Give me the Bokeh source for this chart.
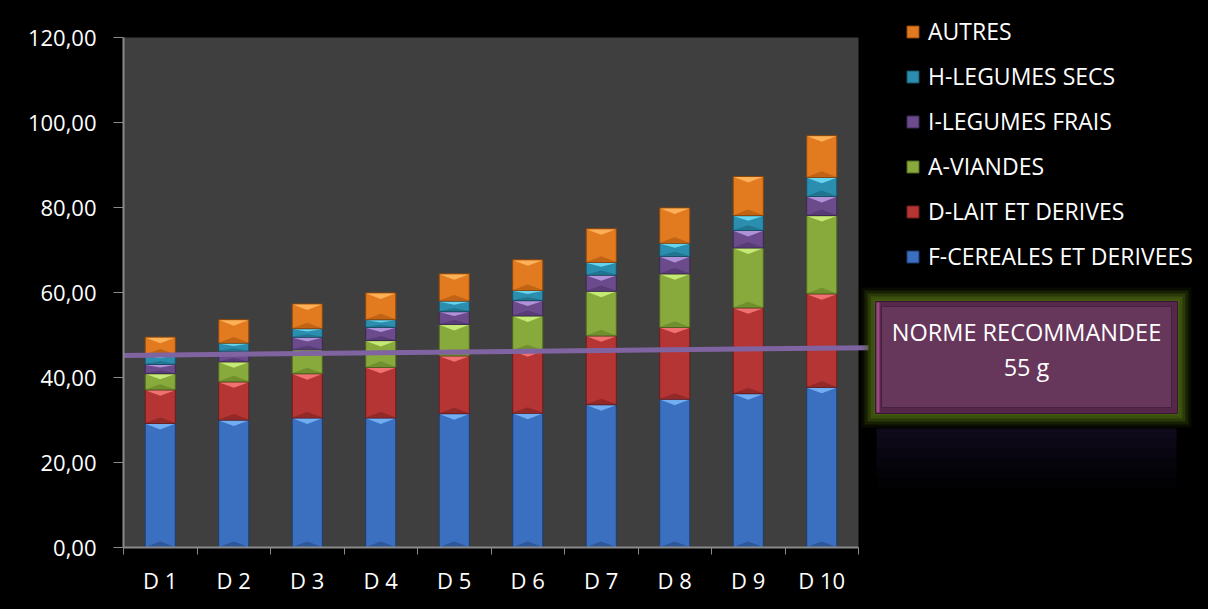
import numpy as np
from bokeh.plotting import figure
from bokeh.models import FixedTicker, Legend, LegendItem
from bokeh.embed import file_html
from bokeh.resources import INLINE
from bokeh.core.properties import value

# ---------------- data ----------------
categories = ["D 1", "D 2", "D 3", "D 4", "D 5", "D 6", "D 7", "D 8", "D 9", "D 10"]
cereales = [29.2, 30.0, 30.5, 30.5, 31.5, 31.6, 33.6, 34.9, 36.2, 37.7]
lait = [7.9, 9.0, 10.4, 11.9, 13.6, 14.7, 16.2, 16.9, 20.2, 22.0]
viandes = [3.8, 4.7, 5.6, 6.3, 7.4, 8.2, 10.5, 12.6, 14.1, 18.4]
legumes_frais = [2.2, 2.5, 3.0, 3.1, 3.0, 3.6, 3.8, 4.1, 4.1, 4.5]
legumes_secs = [2.2, 1.9, 2.0, 1.8, 2.5, 2.4, 3.0, 3.1, 3.5, 4.5]
autres = [4.2, 5.5, 5.8, 6.3, 6.4, 7.2, 7.9, 8.3, 9.2, 9.8]
series_names = ["F-CEREALES ET DERIVEES", "D-LAIT ET DERIVES", "A-VIANDES",
                "I-LEGUMES FRAIS", "H-LEGUMES SECS", "AUTRES"]
y_ticks = [0, 20, 40, 60, 80, 100, 120]
norm_y = [45.2, 47.0]          # recommended-norm line (start, end)
norm_text = ["NORME RECOMMANDEE", "55 g"]

# ---------------- styling / layout ----------------
FONT = "Open Sans"
W, H = 1208, 609
FRAME_L, FRAME_B = 123, 62
PX_CAT = 73.5
PX_UNIT = 4.25

def dx(sx):  # page pixel -> data x
    return 0.5 + (sx - FRAME_L) / PX_CAT

def dy(sy):  # page pixel -> data y
    return (H - FRAME_B - sy) / PX_UNIT

palette = [
    ("#3b6fbf", "#78b4f6", "#2a5190", "#1f3d6e"),
    ("#b53535", "#f57878", "#8a2626", "#6b1d1d"),
    ("#88a93b", "#cbef7c", "#6a8a2c", "#4e6620"),
    ("#6b4b8c", "#b89ae2", "#523870", "#3b2852"),
    ("#2b8eae", "#6bdcf6", "#1f6e88", "#175266"),
    ("#e27a20", "#ffb65e", "#b85e12", "#8c470c"),
]

x_end = 0.5 + (W - FRAME_L) / PX_CAT
y_end = (H - FRAME_B) / PX_UNIT

p = figure(width=W, height=H, x_range=(0.5, x_end), y_range=(0, y_end),
           output_backend="svg", toolbar_location=None,
           min_border_left=FRAME_L, min_border_right=0, min_border_top=0,
           min_border_bottom=FRAME_B, background_fill_color="black",
           border_fill_color="black", outline_line_color=None)
p.grid.visible = False

# plot area
p.quad(left=[0.5], right=[10.5], bottom=[0], top=[y_ticks[-1]],
       fill_color="#3f3f3f", line_color=None)

xs = np.arange(1, len(categories) + 1, dtype=float)
BW = 0.41
bottom = np.zeros(len(categories))
renderers = []
for vals, name, (base, light, dark, edge) in zip(
        [cereales, lait, viandes, legumes_frais, legumes_secs, autres], series_names, palette):
    v = np.array(vals, dtype=float)
    top = bottom + v
    r = p.vbar(x=xs, bottom=bottom, top=top, width=BW, fill_color=base,
               line_color=edge, line_width=1)
    renderers.append((name, r))
    h = np.minimum(6 / PX_UNIT, 0.35 * v)
    tx, ty, bx, by = [], [], [], []
    for xi, b, t, hi in zip(xs, bottom, top, h):
        tx.append([xi - BW / 2 + 0.01, xi + BW / 2 - 0.01, xi])
        ty.append([t - 0.15, t - 0.15, t - hi])
        bx.append([xi - BW / 2 + 0.01, xi + BW / 2 - 0.01, xi])
        by.append([b + 0.15, b + 0.15, b + hi])
    p.patches(tx, ty, fill_color=light, line_color=None, fill_alpha=0.9)
    p.patches(bx, by, fill_color=dark, line_color=None, fill_alpha=0.8)
    bottom = top

# norm line
p.line(x=[0.5, dx(868)], y=norm_y, line_color="#8064a2", line_width=5)

# norm box: glow, reflection, box, bevel
for grow, a in [(14, 0.12), (11, 0.25), (8, 0.45), (5, 0.7), (2, 1.0)]:
    p.quad(left=[dx(875 - grow)], right=[dx(1177 + grow)], top=[dy(301 - grow)],
           bottom=[dy(413 + grow)], fill_color="#435a0f", fill_alpha=a, line_color=None)
for i, a in enumerate([0.55, 0.45, 0.35, 0.25, 0.15, 0.07]):
    p.quad(left=[dx(876)], right=[dx(1176)], top=[dy(428 + i * 10)],
           bottom=[dy(438 + i * 10)], fill_color="#1c1230", fill_alpha=a, line_color=None)
p.quad(left=[dx(875)], right=[dx(1177)], top=[dy(301)], bottom=[dy(413)],
       fill_color="#55284b", line_color="#3a1734", line_width=1)
p.quad(left=[dx(876)], right=[dx(879)], top=[dy(302)], bottom=[dy(412)],
       fill_color="#9a4a80", line_color=None)
p.quad(left=[dx(881)], right=[dx(1171)], top=[dy(306)], bottom=[dy(407)],
       fill_color="#66365b", line_color="#48203f", line_width=1)
p.text(x=[dx(1026), dx(1026)], y=[dy(331), dy(366)], text=norm_text,
       text_font=value(FONT), text_font_size="23.5px", text_color="white",
       text_align="center", text_baseline="middle")

# axes
p.xaxis.ticker = FixedTicker(ticks=list(xs), minor_ticks=[0.5 + i for i in range(len(categories) + 1)])
p.xaxis.major_label_overrides = {float(i + 1): c for i, c in enumerate(categories)}
p.xaxis.bounds = (0.5, 10.5)
p.xaxis.major_tick_out = 0
p.xaxis.major_tick_in = 0
p.xaxis.minor_tick_out = 7
p.xaxis.minor_tick_in = 0
p.xaxis.minor_tick_line_color = "#8a8a8a"
p.xaxis.major_label_standoff = 10

p.yaxis.ticker = FixedTicker(ticks=y_ticks, minor_ticks=[])
p.yaxis.major_label_overrides = {t: f"{t:.2f}".replace(".", ",") for t in y_ticks}
p.yaxis.bounds = (0, y_ticks[-1])
p.yaxis.major_tick_out = 10
p.yaxis.major_tick_in = 0
p.yaxis.major_label_standoff = 17

for ax in (p.xaxis[0], p.yaxis[0]):
    ax.axis_line_color = "#8a8a8a"
    ax.axis_line_width = 2
    ax.major_tick_line_color = "#8a8a8a"
    ax.major_tick_line_width = 1
    ax.major_label_text_font = FONT
    ax.major_label_text_font_size = "22px"
    ax.major_label_text_color = "white"

# legend
items = [LegendItem(label=n, renderers=[r]) for n, r in reversed(renderers)]
legend = Legend(items=items, location=(782, 275), orientation="vertical",
                label_text_font=FONT, label_text_font_size="23px",
                label_text_color="white", glyph_width=15, glyph_height=15,
                label_standoff=8, spacing=13, label_height=22, padding=0, margin=0,
                background_fill_alpha=0, border_line_color=None)
p.add_layout(legend)

html = file_html(p, INLINE, title="Chart")
html = html.replace("</head>", "<style>html,body{background:#000;}</style></head>", 1)
open("out.html", "w").write(html)
